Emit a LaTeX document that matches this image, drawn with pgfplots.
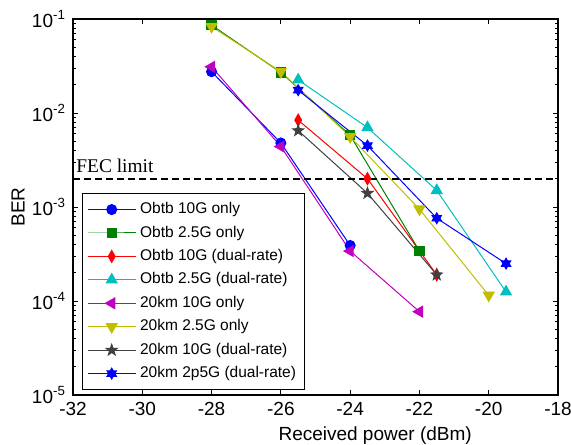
\documentclass[border=0pt]{standalone}
\usepackage{fontspec}
\setmainfont{Liberation Sans}
\newfontfamily\timesfont{Liberation Serif}
\usepackage{pgfplots}
\pgfplotsset{compat=1.18}
\usetikzlibrary{calc}

\definecolor{mblue}{rgb}{0,0,1}
\definecolor{mgreen}{rgb}{0,0.5,0}
\definecolor{mred}{rgb}{1,0,0}
\definecolor{mcyan}{rgb}{0,0.75,0.75}
\definecolor{mmag}{rgb}{0.75,0,0.75}
\definecolor{myel}{rgb}{0.75,0.75,0}
\definecolor{mgray}{rgb}{0.25,0.25,0.25}

% filled five-point star
\pgfdeclareplotmark{pentagram}{%
  \pgfpathmoveto{\pgfqpointpolar{90}{\pgfplotmarksize}}%
  \pgfpathlineto{\pgfqpointpolar{126}{0.4\pgfplotmarksize}}%
  \pgfpathlineto{\pgfqpointpolar{162}{\pgfplotmarksize}}%
  \pgfpathlineto{\pgfqpointpolar{198}{0.4\pgfplotmarksize}}%
  \pgfpathlineto{\pgfqpointpolar{234}{\pgfplotmarksize}}%
  \pgfpathlineto{\pgfqpointpolar{270}{0.4\pgfplotmarksize}}%
  \pgfpathlineto{\pgfqpointpolar{306}{\pgfplotmarksize}}%
  \pgfpathlineto{\pgfqpointpolar{342}{0.4\pgfplotmarksize}}%
  \pgfpathlineto{\pgfqpointpolar{18}{\pgfplotmarksize}}%
  \pgfpathlineto{\pgfqpointpolar{54}{0.4\pgfplotmarksize}}%
  \pgfpathclose\pgfusepathqfillstroke}
% filled six-point star
\pgfdeclareplotmark{hexagram}{%
  \pgfpathmoveto{\pgfqpointpolar{90}{\pgfplotmarksize}}%
  \pgfpathlineto{\pgfqpointpolar{210}{\pgfplotmarksize}}%
  \pgfpathlineto{\pgfqpointpolar{330}{\pgfplotmarksize}}%
  \pgfpathclose
  \pgfpathmoveto{\pgfqpointpolar{270}{\pgfplotmarksize}}%
  \pgfpathlineto{\pgfqpointpolar{30}{\pgfplotmarksize}}%
  \pgfpathlineto{\pgfqpointpolar{150}{\pgfplotmarksize}}%
  \pgfpathclose\pgfusepathqfillstroke}

\begin{document}
\begin{tikzpicture}
\begin{axis}[
  name=ax, scale only axis, width=242.5pt, height=188pt,
  xmin=-32, xmax=-18, ymode=log, ymin=1e-5, ymax=1e-1,
  xtick={-32,-30,-28,-26,-24,-22,-20,-18},
  xticklabels={-32,-30,-28,-26,-24,-22,-20,-18},
  ytick={1e-5,1e-4,1e-3,1e-2,1e-1},
  yticklabels={10\textsuperscript{-5},10\textsuperscript{-4},10\textsuperscript{-3},10\textsuperscript{-2},10\textsuperscript{-1}},
  tick label style={font=\fontsize{9.5}{11}\selectfont},
  major tick length=2.5pt, minor tick length=1.5pt,
  axis line style={line width=0.6pt},
  every tick/.style={black,line width=0.5pt},
  xlabel={Received power (dBm)},
  xlabel style={at={(axis description cs:0.623,-0.109)},anchor=center,font=\fontsize{9.5}{11}\selectfont},
  ylabel={BER},
  ylabel style={at={(axis description cs:-0.1134,0.5)},anchor=center,font=\fontsize{9.5}{11}\selectfont},
  legend style={at={(axis description cs:0.0186,0.0133)},anchor=south west,
    font=\fontsize{7.75}{9}\selectfont,draw=black,line width=0.5pt,
    row sep=0.6pt,inner sep=2.4pt},
  legend cell align=left,
  legend image code/.code={\draw[mark repeat=2,mark phase=2]
    plot coordinates {(0cm,0cm) (0.42cm,0cm) (0.84cm,0cm)};},
  every axis plot/.append style={line width=0.5pt},
]
\addplot[mblue,mark=*,mark size=2.5pt,mark options={solid,fill=mblue}]
  coordinates {(-28,2.75e-2) (-26,4.8e-3) (-24,3.9e-4)};
\addplot[mgreen,mark=square*,mark size=2.3pt,mark options={solid,fill=mgreen}]
  coordinates {(-28,8.6e-2) (-26,2.7e-2) (-24,5.8e-3) (-22,3.4e-4)};
\addplot[mred,mark=diamond*,mark size=3pt,mark options={solid,fill=mred,xscale=0.75}]
  coordinates {(-25.5,8.4e-3) (-23.5,2.0e-3) (-21.5,1.9e-4)};
\addplot[mcyan,mark=triangle*,mark size=3.1pt,mark options={solid,fill=mcyan}]
  coordinates {(-25.5,2.25e-2) (-23.5,7.0e-3) (-21.5,1.5e-3) (-19.5,1.25e-4)};
\addplot[mmag,mark=triangle*,mark size=3.1pt,mark options={solid,fill=mmag,rotate=90}]
  coordinates {(-28,3.1e-2) (-26,4.4e-3) (-24,3.4e-4) (-22,7.7e-5)};
\addplot[myel,mark=triangle*,mark size=3.1pt,mark options={solid,fill=myel,rotate=180}]
  coordinates {(-28,8.3e-2) (-26,2.75e-2) (-24,5.6e-3) (-22,9.5e-4) (-20,1.15e-4)};
\addplot[mgray,mark=pentagram,mark size=2.9pt,mark options={solid,fill=mgray}]
  coordinates {(-25.5,6.5e-3) (-23.5,1.4e-3) (-21.5,1.9e-4)};
\addplot[mblue,mark=hexagram,mark size=2.7pt,mark options={solid,fill=mblue}]
  coordinates {(-25.5,1.75e-2) (-23.5,4.5e-3) (-21.5,7.6e-4) (-19.5,2.5e-4)};
\addplot[black,line width=1pt,dash pattern=on 3.5pt off 2pt,forget plot]
  coordinates {(-32,2e-3) (-18,2e-3)};
\node[anchor=base west,font=\timesfont\fontsize{9.7}{11}\selectfont,inner sep=0pt]
  at ($(axis cs:-32,2e-3)+(1.5pt,3pt)$) {FEC limit};
\legend{Obtb 10G only,Obtb 2.5G only,Obtb 10G (dual-rate),Obtb 2.5G (dual-rate),
  20km 10G only,20km 2.5G only,20km 10G (dual-rate),20km 2p5G (dual-rate)}
\end{axis}
\pgfresetboundingbox
\path[use as bounding box] ($(ax.south west)+(-36.5pt,-24.5pt)$) rectangle ($(ax.north east)+(6.5pt,9.5pt)$);
\end{tikzpicture}
\end{document}
